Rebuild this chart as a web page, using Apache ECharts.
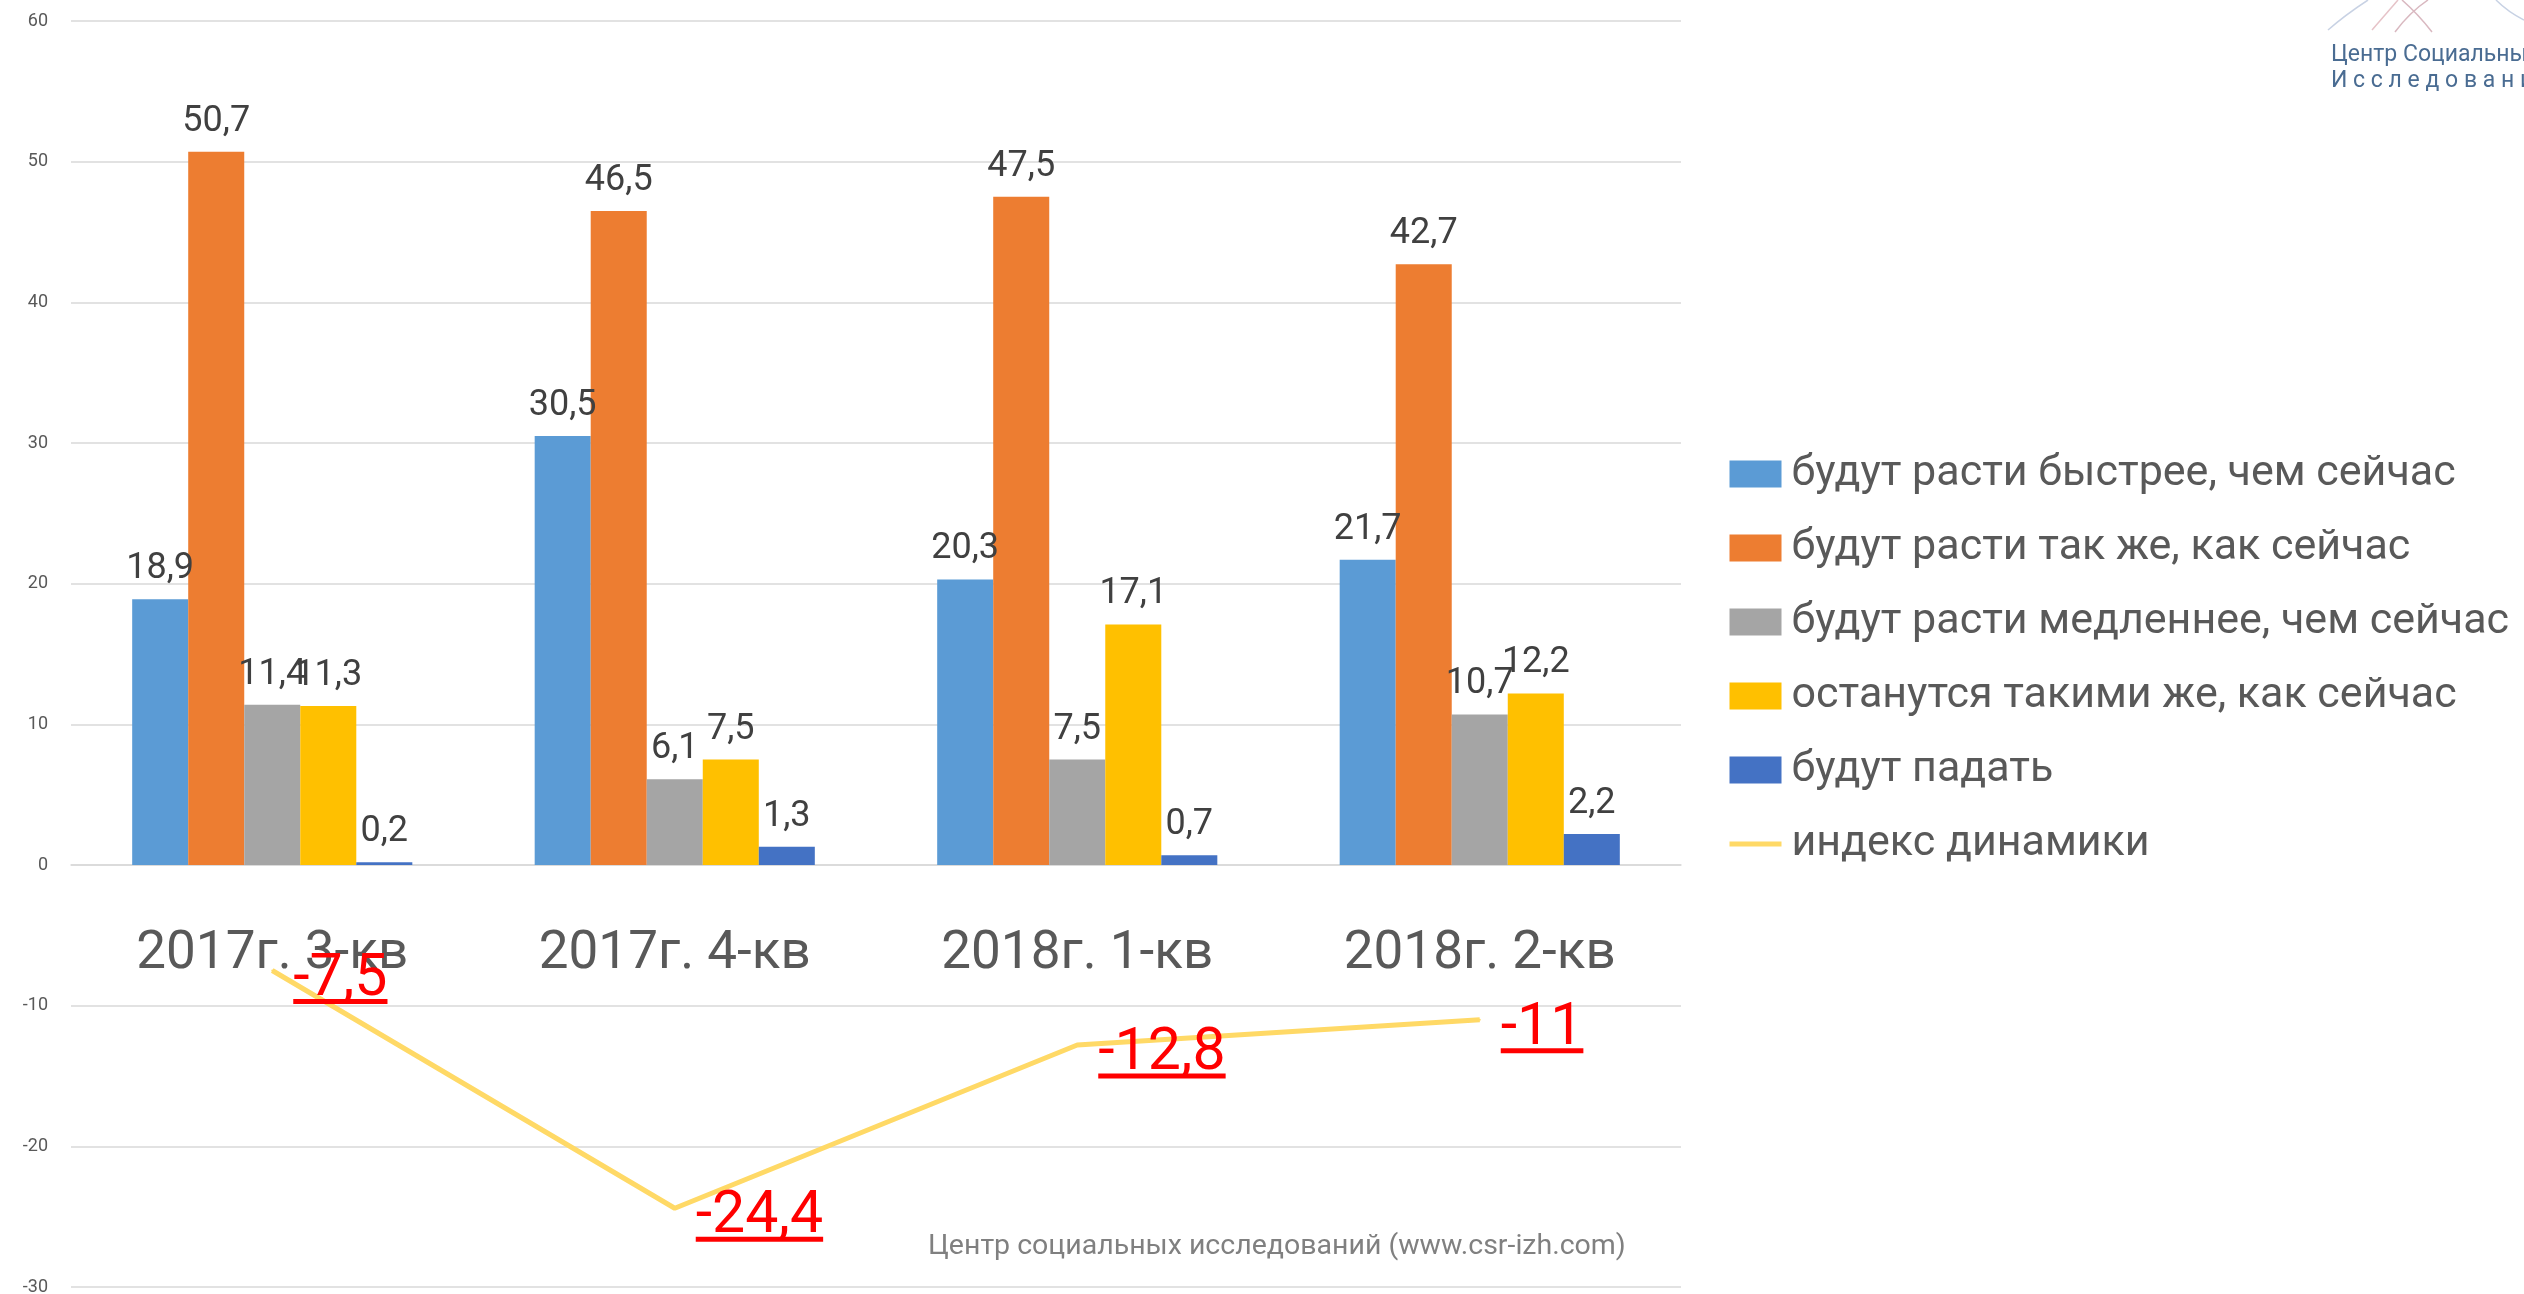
<!DOCTYPE html>
<html>
<head>
<meta charset="utf-8">
<script src="https://cdn.jsdelivr.net/npm/echarts@6/dist/echarts.min.js"></script>
<style>
  html, body { margin: 0; padding: 0; background: #fff; }
  #chart { width: 2524px; height: 1294px; }
</style>
</head>
<body>
<div id="chart"></div>
<script>
// данные
const categories = ['2017г. 3-кв', '2017г. 4-кв', '2018г. 1-кв', '2018г. 2-кв'];
const seriesNames = [
    'будут расти быстрее, чем сейчас',
    'будут расти так же, как сейчас',
    'будут расти медленнее, чем сейчас',
    'останутся такими же, как сейчас',
    'будут падать'
];
const faster = [18.9, 30.5, 20.3, 21.7];
const same = [50.7, 46.5, 47.5, 42.7];
const slower = [11.4, 6.1, 7.5, 10.7];
const unchanged = [11.3, 7.5, 17.1, 12.2];
const falling = [0.2, 1.3, 0.7, 2.2];
const indexName = 'индекс динамики';
const dynamicsIndex = [-7.5, -24.4, -12.8, -11];
const yMin = -30, yMax = 60, yStep = 10;

const barColors = ['#5B9BD5', '#ED7D31', '#A5A5A5', '#FFC000', '#4472C4'];
const FONT = 'Roboto';

const comma = v => String(v).replace('.', ',');

const chartEl = document.getElementById('chart');
const chart = echarts.init(chartEl);

const gridTop = 21, gridBottom = 7;
// подписи категорий сидят на нулевой линии, как в Excel
const plotHeight = chartEl.clientHeight - gridTop - gridBottom;
const zeroShift = plotHeight * (0 - yMin) / (yMax - yMin);

const barSeries = [faster, same, slower, unchanged, falling].map((data, i) => ({
    name: seriesNames[i],
    type: 'bar',
    data: data,
    barGap: '0%',
    barCategoryGap: '30.4%',
    itemStyle: { color: barColors[i] },
    label: {
        show: true,
        position: 'top',
        distance: 12,
        color: '#404040',
        fontFamily: FONT,
        fontSize: 36,
        formatter: p => comma(p.value)
    }
}));

const lineSeries = {
    name: indexName,
    type: 'line',
    data: dynamicsIndex,
    symbol: 'circle',
    symbolSize: 2,
    showSymbol: true,
    lineStyle: { color: '#FFD966', width: 5 },
    itemStyle: { color: '#FFD966' },
    z: 5,
    label: {
        show: true,
        position: 'right',
        distance: 20,
        offset: [0, 12],
        formatter: p => '{v|' + comma(p.value) + '}\n{u| }',
        rich: {
            v: { color: '#FF0000', fontFamily: FONT, fontSize: 59, lineHeight: 38 },
            u: { width: '100%', height: 5, lineHeight: 5, fontSize: 1, backgroundColor: '#FF0000' }
        }
    }
};

const option = {
    backgroundColor: '#fff',
    animation: false,
    textStyle: { fontFamily: FONT },
    grid: { left: 71, right: 843, top: gridTop, bottom: gridBottom, containLabel: false, outerBoundsMode: 'none' },
    title: {
        text: 'Центр социальных исследований (www.csr-izh.com)',
        left: 928,
        top: 1232,
        padding: 0,
        textStyle: { fontFamily: FONT, fontSize: 28.5, fontWeight: 'normal', color: '#808080' }
    },
    legend: {
        orient: 'vertical',
        left: 1722,
        top: 447,
        itemWidth: 52,
        itemHeight: 27,
        itemGap: 30,
        data: seriesNames.map(n => ({ name: n, icon: 'rect' })).concat([
            { name: indexName, itemStyle: { opacity: 0 }, lineStyle: { width: 5 } }
        ]),
        textStyle: { fontFamily: FONT, fontSize: 43, lineHeight: 44, color: '#595959', padding: [0, 0, 0, 5] }
    },
    xAxis: {
        type: 'category',
        data: categories,
        position: 'bottom',
        offset: -zeroShift,
        axisLine: { onZero: false, lineStyle: { color: '#D9D9D9', width: 1.5 } },
        axisTick: { show: false },
        axisLabel: { margin: 63, color: '#595959', fontFamily: FONT, fontSize: 53 }
    },
    yAxis: {
        type: 'value',
        min: yMin,
        max: yMax,
        interval: yStep,
        axisLine: { show: false },
        axisTick: { show: false },
        axisLabel: { margin: 23, color: '#595959', fontFamily: FONT, fontSize: 18 },
        splitLine: { lineStyle: { color: '#D9D9D9', width: 1.5 } }
    },
    series: barSeries.concat([lineSeries]),
    graphic: [
        { type: 'bezierCurve', shape: { x1: 2328, y1: 30, cpx1: 2345, cpy1: 15, x2: 2368, y2: 0 },
          style: { stroke: '#c8d2e4', lineWidth: 1.5, fill: null } },
        { type: 'bezierCurve', shape: { x1: 2372, y1: 30, cpx1: 2385, cpy1: 15, x2: 2398, y2: 0 },
          style: { stroke: '#e6c3c8', lineWidth: 1.5, fill: null } },
        { type: 'bezierCurve', shape: { x1: 2395, y1: 32, cpx1: 2410, cpy1: 12, x2: 2428, y2: 0 },
          style: { stroke: '#d9b8c0', lineWidth: 1.5, fill: null } },
        { type: 'bezierCurve', shape: { x1: 2402, y1: 0, cpx1: 2418, cpy1: 14, x2: 2432, y2: 32 },
          style: { stroke: '#d9b8c0', lineWidth: 1.5, fill: null } },
        { type: 'bezierCurve', shape: { x1: 2496, y1: 0, cpx1: 2508, cpy1: 12, x2: 2524, y2: 20 },
          style: { stroke: '#c8d2e4', lineWidth: 1.5, fill: null } },
        { type: 'text', left: 2331, top: 44,
          style: { text: 'Центр Социальных', fontFamily: FONT, fontSize: 23, fill: '#4a6c92' } },
        { type: 'text', left: 2331, top: 70,
          style: { text: 'И с с л е д о в а н и й', fontFamily: FONT, fontSize: 23, fill: '#4a6c92' } }
    ]
};

chart.setOption(option);
</script>
</body>
</html>
